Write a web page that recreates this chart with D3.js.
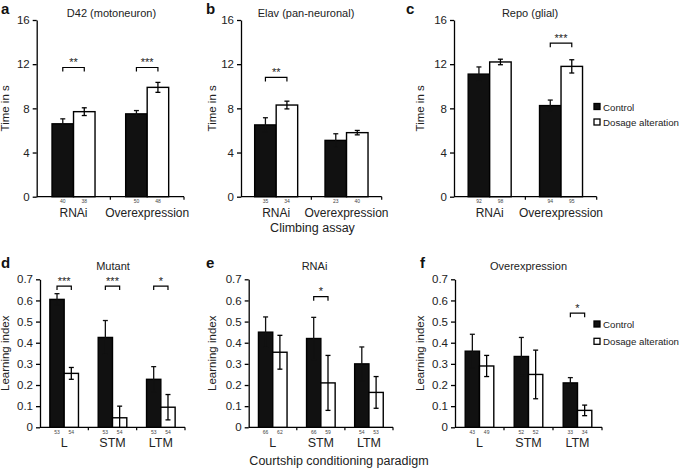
<!DOCTYPE html>
<html><head><meta charset="utf-8">
<script src="https://cdn.jsdelivr.net/npm/d3@7"></script>
<style>
html,body{margin:0;padding:0;background:#fff;}
svg{display:block;font-family:"Liberation Sans",Arial,Helvetica,sans-serif;}
</style></head>
<body>
<svg id="chart" width="685" height="468"></svg>
<script>
// ---------- DATA ----------
const climbGroups = ["RNAi", "Overexpression"];
const climbTicks = [0, 4, 8, 12, 16];

const d42Ctrl = [6.6, 7.5];
const d42CtrlErr = [0.45, 0.3];
const d42Dose = [7.7, 9.9];
const d42DoseErr = [0.35, 0.45];
const d42NCtrl = [40, 50];
const d42NDose = [38, 48];
const d42Sig = ["**", "***"];
const d42Bracket = 11.7;

const elavCtrl = [6.5, 5.1];
const elavCtrlErr = [0.65, 0.6];
const elavDose = [8.3, 5.8];
const elavDoseErr = [0.35, 0.2];
const elavNCtrl = [35, 23];
const elavNDose = [34, 40];
const elavSig = ["**", ""];
const elavBracket = 10.8;

const repoCtrl = [11.1, 8.25];
const repoCtrlErr = [0.65, 0.5];
const repoDose = [12.2, 11.8];
const repoDoseErr = [0.25, 0.6];
const repoNCtrl = [92, 94];
const repoNDose = [98, 95];
const repoSig = ["", "***"];
const repoBracket = 13.9;

const learnGroups = ["L", "STM", "LTM"];
const learnTicks = [0, 0.1, 0.2, 0.3, 0.4, 0.5, 0.6, 0.7];

const mutCtrl = [0.605, 0.425, 0.227];
const mutCtrlErr = [0.027, 0.08, 0.06];
const mutDose = [0.255, 0.045, 0.095];
const mutDoseErr = [0.028, 0.055, 0.06];
const mutNCtrl = [53, 53, 53];
const mutNDose = [54, 54, 54];
const mutSig = ["***", "***", "*"];
const mutBracket = 0.668;

const rnaiCtrl = [0.45, 0.42, 0.30];
const rnaiCtrlErr = [0.072, 0.1, 0.08];
const rnaiDose = [0.355, 0.21, 0.165];
const rnaiDoseErr = [0.08, 0.13, 0.075];
const rnaiNCtrl = [66, 66, 54];
const rnaiNDose = [62, 59, 53];
const rnaiSig = ["", "*", ""];
const rnaiBracket = 0.618;

const ovCtrl = [0.36, 0.335, 0.21];
const ovCtrlErr = [0.08, 0.09, 0.025];
const ovDose = [0.29, 0.25, 0.08];
const ovDoseErr = [0.05, 0.115, 0.025];
const ovNCtrl = [43, 52, 33];
const ovNDose = [49, 52, 34];
const ovSig = ["", "", "*"];
const ovBracket = 0.54;

const legendLabels = ["Control", "Dosage alteration"];

// ---------- LAYOUT ----------
const svg = d3.select("#chart");
const TXT = "#222";

function panel(o) {
  const g = svg.append("g");
  const y = d3.scaleLinear().domain([0, o.yMax]).range([o.yBot, o.yTop]);
  const x = d3.scaleBand().domain(o.groups).range([o.x0, o.x1]);
  const bw = o.barW;

  // y axis
  const ya = g.append("g").attr("transform", `translate(${o.x0},0)`)
    .call(d3.axisLeft(y).tickValues(o.ticks).tickSize(4).tickSizeOuter(0).tickPadding(3)
      .tickFormat(o.fmt));
  ya.selectAll("text").attr("font-size", 11.5).attr("fill", TXT).style("font-family", "Liberation Sans, Arial, sans-serif");
  ya.selectAll("line,path").attr("stroke", "#000").attr("stroke-width", 1.3);

  // x axis line
  g.append("line").attr("x1", o.x0).attr("x2", o.x1).attr("y1", o.yBot).attr("y2", o.yBot)
    .attr("stroke", "#000").attr("stroke-width", 1.3);
  const seps = o.groups.slice(1).map(d => x(d)).concat([o.x1]);
  g.selectAll(".sep").data(seps).join("line")
    .attr("x1", d => d).attr("x2", d => d).attr("y1", o.yBot).attr("y2", o.yBot + 3)
    .attr("stroke", "#000").attr("stroke-width", 1.2);

  const cx = d => x(d) + x.bandwidth() / 2;

  // bars
  const series = [
    {vals: o.ctrl, err: o.ctrlErr, n: o.nCtrl, fill: "#111", off: -bw},
    {vals: o.dose, err: o.doseErr, n: o.nDose, fill: "#fff", off: 0}
  ];
  series.forEach(s => {
    o.groups.forEach((grp, i) => {
      const bx = cx(grp) + s.off;
      g.append("rect").attr("x", bx).attr("y", y(s.vals[i]))
        .attr("width", bw).attr("height", y(0) - y(s.vals[i]))
        .attr("fill", s.fill).attr("stroke", "#000").attr("stroke-width", 1.4);
      const mx = bx + bw / 2;
      const lo = Math.max(0, s.vals[i] - s.err[i]), hi = s.vals[i] + s.err[i];
      const ec = s.fill === "#111" ? "#111" : "#000";
      g.append("line").attr("x1", mx).attr("x2", mx).attr("y1", y(lo)).attr("y2", y(hi))
        .attr("stroke", ec).attr("stroke-width", 1.3);
      [hi].concat(s.vals[i] - s.err[i] > 0 ? [lo] : []).forEach(v => {
        g.append("line").attr("x1", mx - 2.5).attr("x2", mx + 2.5).attr("y1", y(v)).attr("y2", y(v))
          .attr("stroke", ec).attr("stroke-width", 1.3);
      });
      g.append("text").attr("x", mx).attr("y", o.yBot + 6.5).attr("text-anchor", "middle")
        .attr("font-size", 5).attr("fill", "#444").text(s.n[i]);
    });
  });

  // significance brackets
  o.groups.forEach((grp, i) => {
    if (!o.sig[i]) return;
    const xa = cx(grp) - bw / 2, xb = cx(grp) + bw / 2, yy = y(o.bracket);
    g.append("path").attr("d", `M${xa},${yy + 4}V${yy}H${xb}V${yy + 4}`)
      .attr("fill", "none").attr("stroke", "#000").attr("stroke-width", 1.2);
    g.append("text").attr("x", (xa + xb) / 2).attr("y", yy - 1.5).attr("text-anchor", "middle")
      .attr("font-size", 11).attr("fill", TXT).text(o.sig[i]);
  });

  // category labels
  o.groups.forEach(grp => {
    g.append("text").attr("x", cx(grp)).attr("y", o.catY).attr("text-anchor", "middle")
      .attr("font-size", o.catSize).attr("fill", TXT).text(grp);
  });

  // title
  g.append("text").attr("x", o.titleX).attr("y", o.titleY).attr("text-anchor", "middle")
    .attr("font-size", 11).attr("fill", TXT).text(o.title);
  // panel letter
  g.append("text").attr("x", o.letterX).attr("y", o.letterY).attr("font-size", 15)
    .attr("font-weight", "bold").attr("fill", "#111").text(o.letter);
  // y label
  g.append("text").attr("transform", `translate(${o.ylabX},${(o.yTop + o.yBot) / 2}) rotate(-90)`)
    .attr("text-anchor", "middle").attr("font-size", 11.5).attr("fill", TXT).text(o.ylabel);
}

function legend(x, y0, dy) {
  // font size chosen so the longest label fits inside the page
  const probe = svg.append("text").attr("font-size", 11).text(legendLabels[1]);
  const w = probe.node().getComputedTextLength();
  probe.remove();
  const fs = Math.min(11, 11 * (679 - (x + 9)) / w);
  legendLabels.forEach((lab, i) => {
    const yy = y0 + i * dy;
    svg.append("rect").attr("x", x).attr("y", yy - 3.5).attr("width", 6).attr("height", 6)
      .attr("fill", i === 0 ? "#111" : "#fff").attr("stroke", "#000").attr("stroke-width", 1.3);
    svg.append("text").attr("x", x + 9).attr("y", yy + 3.6).attr("font-size", fs)
      .attr("fill", TXT).text(lab);
  });
}

const fmtTop = d3.format("d");
const fmtBot = d => d === 0 ? "0" : d.toFixed(1);

const topCfg = {groups: climbGroups, ticks: climbTicks, yMax: 16, yTop: 20, yBot: 196.7, barW: 21.5,
  fmt: fmtTop, catY: 217, catSize: 12, titleY: 17, letterY: 14, ylabel: "Time in s"};
const botCfg = {groups: learnGroups, ticks: learnTicks, yMax: 0.7, yTop: 279.3, yBot: 427.3, barW: 14.3,
  fmt: fmtBot, catY: 447, catSize: 12.5, titleY: 269.5, letterY: 268, ylabel: "Learning index"};

panel(Object.assign({}, topCfg, {x0: 36.7, x1: 184, ctrl: d42Ctrl, ctrlErr: d42CtrlErr, dose: d42Dose, doseErr: d42DoseErr,
  nCtrl: d42NCtrl, nDose: d42NDose, sig: d42Sig, bracket: d42Bracket, title: "D42 (motoneuron)", titleX: 111.5,
  letter: "a", letterX: 1, ylabX: 9}));
panel(Object.assign({}, topCfg, {x0: 241, x1: 381.7, ctrl: elavCtrl, ctrlErr: elavCtrlErr, dose: elavDose, doseErr: elavDoseErr,
  nCtrl: elavNCtrl, nDose: elavNDose, sig: elavSig, bracket: elavBracket, title: "Elav (pan-neuronal)", titleX: 306,
  letter: "b", letterX: 206, ylabX: 216}));
panel(Object.assign({}, topCfg, {x0: 454, x1: 596.7, ctrl: repoCtrl, ctrlErr: repoCtrlErr, dose: repoDose, doseErr: repoDoseErr,
  nCtrl: repoNCtrl, nDose: repoNDose, sig: repoSig, bracket: repoBracket, title: "Repo (glial)", titleX: 530,
  letter: "c", letterX: 406, ylabX: 424}));

panel(Object.assign({}, botCfg, {x0: 40, x1: 185, ctrl: mutCtrl, ctrlErr: mutCtrlErr, dose: mutDose, doseErr: mutDoseErr,
  nCtrl: mutNCtrl, nDose: mutNDose, sig: mutSig, bracket: mutBracket, title: "Mutant", titleX: 113,
  letter: "d", letterX: 1, ylabX: 9}));
panel(Object.assign({}, botCfg, {x0: 248.7, x1: 393, ctrl: rnaiCtrl, ctrlErr: rnaiCtrlErr, dose: rnaiDose, doseErr: rnaiDoseErr,
  nCtrl: rnaiNCtrl, nDose: rnaiNDose, sig: rnaiSig, bracket: rnaiBracket, title: "RNAi", titleX: 314.5,
  letter: "e", letterX: 206, ylabX: 216}));
panel(Object.assign({}, botCfg, {x0: 455, x1: 602, ctrl: ovCtrl, ctrlErr: ovCtrlErr, dose: ovDose, doseErr: ovDoseErr,
  nCtrl: ovNCtrl, nDose: ovNDose, sig: ovSig, bracket: ovBracket, title: "Overexpression", titleX: 528.5,
  letter: "f", letterX: 420, ylabX: 424}));

legend(594, 107, 15.5);
legend(594, 324.5, 17.3);

svg.append("text").attr("x", 312.5).attr("y", 232).attr("text-anchor", "middle")
  .attr("font-size", 12.5).attr("fill", TXT).text("Climbing assay");
svg.append("text").attr("x", 339).attr("y", 465).attr("text-anchor", "middle")
  .attr("font-size", 12.5).attr("fill", TXT).text("Courtship conditioning paradigm");
</script>
</body></html>
